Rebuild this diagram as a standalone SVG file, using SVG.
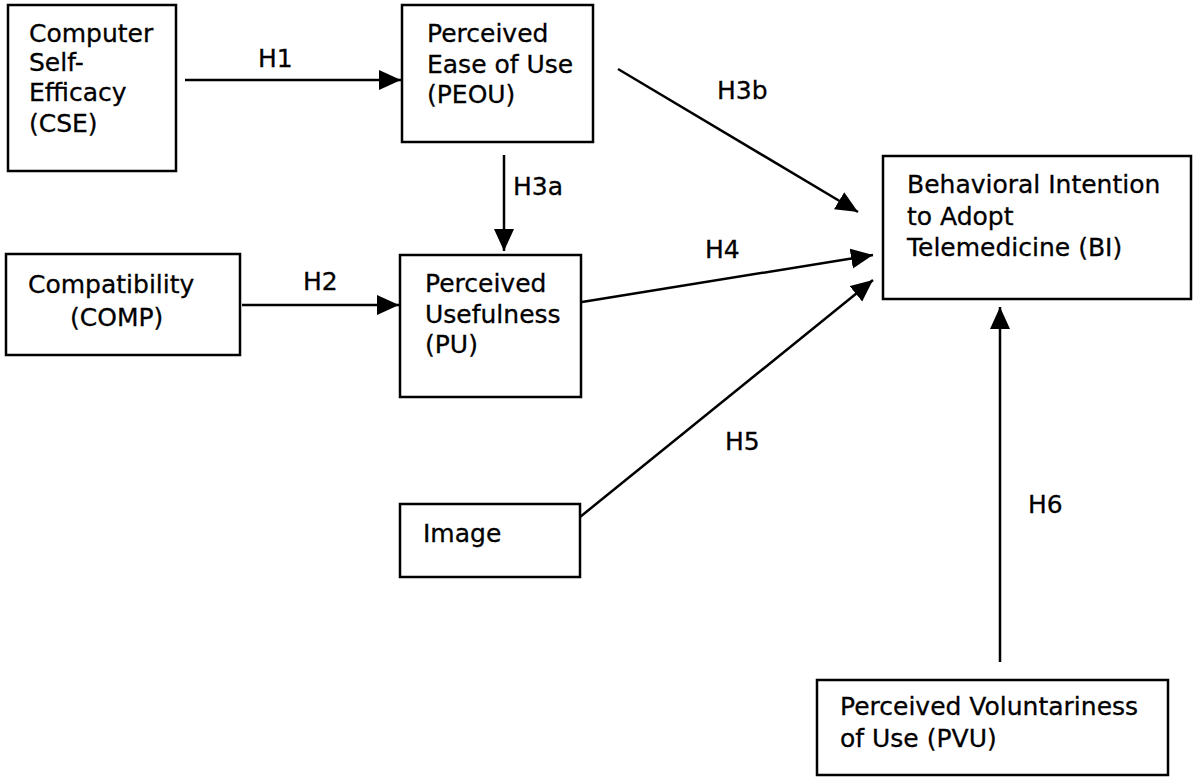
<svg xmlns="http://www.w3.org/2000/svg" width="1193" height="779" viewBox="0 0 1193 779">
  <style>
    .box { fill: #ffffff; stroke: #000000; stroke-width: 2.5; }
    .t { font-family: "DejaVu Sans", Verdana, sans-serif; font-size: 25px; fill: #000000; stroke: #000000; stroke-width: 0.3; }
    .lbl { font-family: "DejaVu Sans", Verdana, sans-serif; font-size: 25px; fill: #000000; stroke: #000000; stroke-width: 0.3; }
    .edge { stroke: #000000; stroke-width: 2.5; fill: none; marker-end: url(#arr); }
  </style>
  <defs>
    <marker id="arr" markerUnits="userSpaceOnUse" markerWidth="24" markerHeight="22" refX="22" refY="10" orient="auto">
      <path d="M0,0 L22,10 L0,20 z" fill="#000000"/>
    </marker>
  </defs>
  <rect width="1193" height="779" fill="#ffffff"/>

  <g id="cse">
    <rect class="box" x="8" y="5" width="168" height="166"/>
    <text class="t" x="29" y="42">Computer</text>
    <text class="t" x="29" y="71">Self-</text>
    <text class="t" x="29" y="101">Efficacy</text>
    <text class="t" x="29" y="132">(CSE)</text>
  </g>
  <g id="peou">
    <rect class="box" x="402" y="5" width="191" height="137"/>
    <text class="t" x="427" y="42">Perceived</text>
    <text class="t" x="427" y="73">Ease of Use</text>
    <text class="t" x="427" y="103">(PEOU)</text>
  </g>
  <g id="comp">
    <rect class="box" x="6" y="254" width="234" height="101"/>
    <text class="t" x="28" y="293">Compatibility</text>
    <text class="t" x="70" y="326">(COMP)</text>
  </g>
  <g id="pu">
    <rect class="box" x="400" y="255" width="181" height="142"/>
    <text class="t" x="425" y="292">Perceived</text>
    <text class="t" x="425" y="323">Usefulness</text>
    <text class="t" x="425" y="353">(PU)</text>
  </g>
  <g id="image">
    <rect class="box" x="400" y="504" width="180" height="73"/>
    <text class="t" x="423" y="542">Image</text>
  </g>
  <g id="bi">
    <rect class="box" x="883" y="156" width="308" height="143"/>
    <text class="t" x="907" y="193">Behavioral Intention</text>
    <text class="t" x="907" y="225">to Adopt</text>
    <text class="t" x="907" y="256">Telemedicine (BI)</text>
  </g>
  <g id="pvu">
    <rect class="box" x="817" y="680" width="351" height="95"/>
    <text class="t" x="840" y="715">Perceived Voluntariness</text>
    <text class="t" x="840" y="747">of Use (PVU)</text>
  </g>

  <g id="connectors">
    <line class="edge" x1="185" y1="80" x2="401" y2="80"/>
    <line class="edge" x1="242" y1="305" x2="399" y2="305"/>
    <line class="edge" x1="504" y1="155" x2="504" y2="251"/>
    <line class="edge" x1="618" y1="69" x2="858" y2="212"/>
    <line class="edge" x1="582" y1="302" x2="873" y2="255"/>
    <line class="edge" x1="580" y1="517" x2="873" y2="280"/>
    <line class="edge" x1="1000" y1="662" x2="1000" y2="307"/>
    <text class="lbl" x="258" y="67">H1</text>
    <text class="lbl" x="303" y="290">H2</text>
    <text class="lbl" x="513" y="195">H3a</text>
    <text class="lbl" x="717" y="99">H3b</text>
    <text class="lbl" x="705" y="258">H4</text>
    <text class="lbl" x="725" y="450">H5</text>
    <text class="lbl" x="1028" y="513">H6</text>
  </g>
</svg>
